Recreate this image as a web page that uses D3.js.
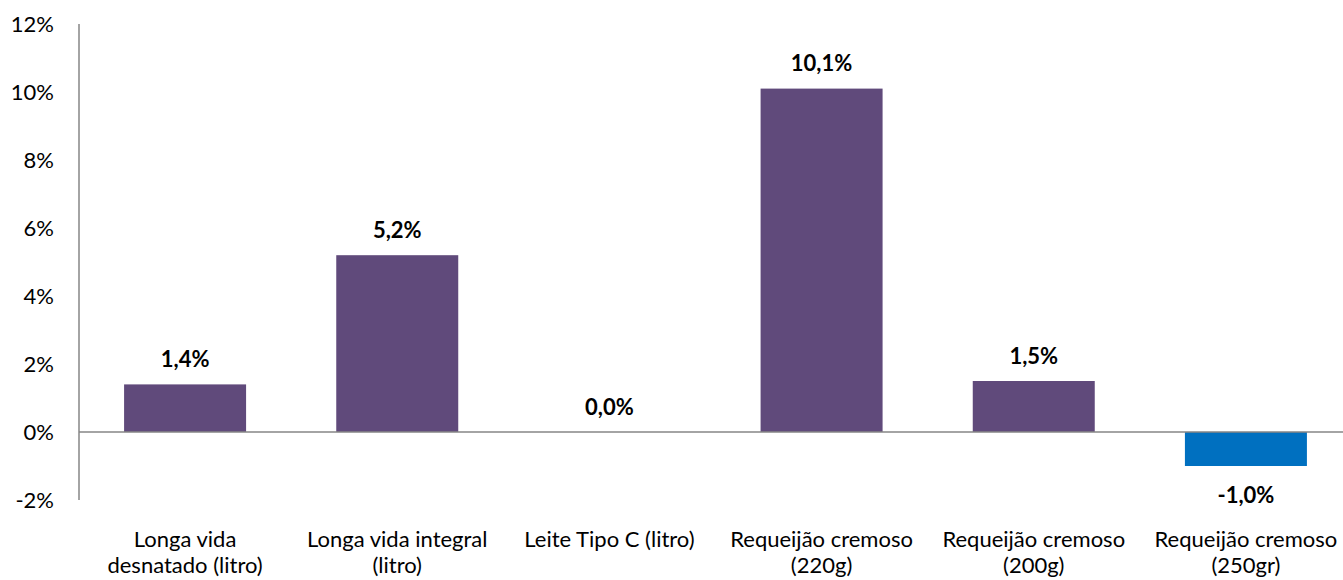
<!DOCTYPE html>
<html>
<head>
<meta charset="utf-8">
<script src="https://cdn.jsdelivr.net/npm/d3@7"></script>
<style>
  body { margin: 0; background: #fff; }
  svg text { font-family: Lato, "Open Sans", sans-serif; fill: #000; }
</style>
</head>
<body>
<svg id="chart" width="1343" height="580"></svg>
<script>
// chart data
const categories = [
  ["Longa vida", "desnatado (litro)"],
  ["Longa vida integral", "(litro)"],
  ["Leite Tipo C (litro)"],
  ["Requeijão cremoso", "(220g)"],
  ["Requeijão cremoso", "(200g)"],
  ["Requeijão cremoso", "(250gr)"]
];
const values = [1.4, 5.2, 0.0, 10.1, 1.5, -1.0];
const yTicks = [-2, 0, 2, 4, 6, 8, 10, 12];

const svg = d3.select('#chart');
const margin = { left: 79, right: -9, top: 24, bottom: 80 };
const width = 1343 - margin.left - margin.right;
const height = 580 - margin.top - margin.bottom;

const x = d3.scaleBand()
    .domain(d3.range(categories.length))
    .range([margin.left, margin.left + width])
    .paddingInner(0.425)
    .paddingOuter(0.2125);

const y = d3.scaleLinear()
    .domain([-2, 12])
    .range([margin.top + height, margin.top]);

const fmt = v => d3.format('.1f')(v).replace('.', ',').replace('\u2212', '-') + '%';

// bars
svg.selectAll('.bar')
    .data(values)
  .join('rect')
    .attr('class', 'bar')
    .attr('x', (d, i) => x(i))
    .attr('width', x.bandwidth())
    .attr('y', d => y(Math.max(0, d)))
    .attr('height', d => Math.abs(y(d) - y(0)))
    .attr('fill', d => d < 0 ? '#0070C0' : '#604A7B');

// y axis line
svg.append('line')
    .attr('x1', margin.left).attr('x2', margin.left)
    .attr('y1', y(12)).attr('y2', y(-2))
    .attr('stroke', '#868686').attr('stroke-width', 1.5);

// zero line
svg.append('line')
    .attr('x1', margin.left).attr('x2', 1343)
    .attr('y1', y(0)).attr('y2', y(0))
    .attr('stroke', '#868686').attr('stroke-width', 1.5);

// y tick labels
svg.selectAll('.ytick')
    .data(yTicks)
  .join('text')
    .attr('class', 'ytick')
    .attr('x', 54)
    .attr('y', d => y(d))
    .attr('dy', '0.35em')
    .attr('text-anchor', 'end')
    .style('font-size', '22px')
    .text(d => d + '%');

// value labels
svg.selectAll('.vlabel')
    .data(values)
  .join('text')
    .attr('class', 'vlabel')
    .attr('x', (d, i) => x(i) + x.bandwidth() / 2)
    .attr('y', d => d < 0 ? y(d) + 29 : y(d) - 25)
    .attr('dy', '0.35em')
    .attr('text-anchor', 'middle')
    .style('font-size', '22px')
    .style('font-weight', 'bold')
    .text(d => fmt(d));

// category labels
const cat = svg.selectAll('.cat')
    .data(categories)
  .join('text')
    .attr('class', 'cat')
    .attr('text-anchor', 'middle')
    .style('font-size', '22px');

cat.selectAll('tspan')
    .data((d, i) => d.map(line => ({ line, i })))
  .join('tspan')
    .attr('x', d => x(d.i) + x.bandwidth() / 2)
    .attr('y', (d, j) => 539 + j * 26)
    .attr('dy', '0.35em')
    .text(d => d.line);
</script>
</body>
</html>
